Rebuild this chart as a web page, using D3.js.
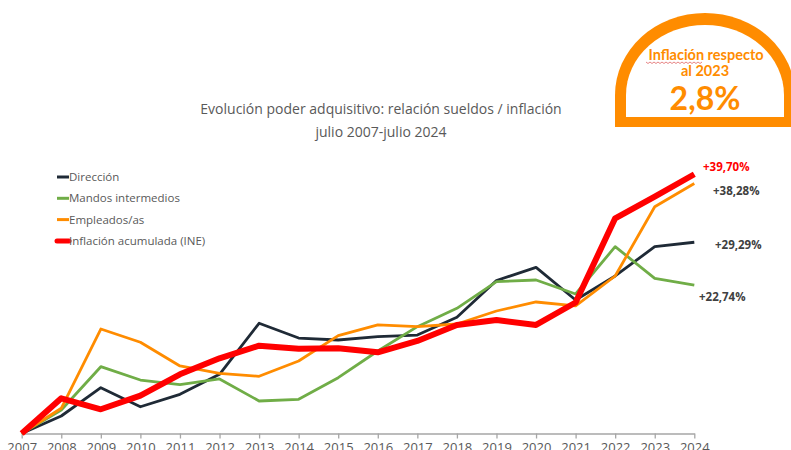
<!DOCTYPE html>
<html>
<head>
<meta charset="utf-8">
<script src="https://cdn.jsdelivr.net/npm/d3@7"></script>
<style>
  html, body { margin: 0; padding: 0; background: #fff; }
  svg { display: block; }
</style>
</head>
<body>
<div id="chart"></div>
<script>
const years = [2007, 2008, 2009, 2010, 2011, 2012, 2013, 2014, 2015, 2016, 2017, 2018, 2019, 2020, 2021, 2022, 2023, 2024];

// cumulative change vs July 2007, in %
const direccion = [0, 2.68, 7.01, 4.10, 6.00, 9.07, 16.88, 14.62, 14.32, 14.82, 15.08, 17.80, 23.43, 25.45, 20.44, 24.12, 28.61, 29.29];
const mandos    = [0, 3.60, 10.23, 8.19, 7.47, 8.35, 4.98, 5.24, 8.55, 12.63, 16.36, 19.17, 23.25, 23.51, 21.36, 28.61, 23.77, 22.74];
const empleados = [0, 3.86, 16.00, 13.97, 10.34, 9.22, 8.76, 11.10, 14.98, 16.62, 16.36, 16.77, 18.76, 20.14, 19.53, 24.12, 34.73, 38.28];
const inflacion = [0, 5.39, 3.71, 5.79, 9.07, 11.52, 13.45, 12.99, 13.05, 12.44, 14.17, 16.62, 17.38, 16.62, 20.06, 32.96, 36.26, 39.70];

const seriesNames = ['Dirección', 'Mandos intermedios', 'Empleados/as', 'Inflación acumulada (INE)'];
const endLabels = ['+29,29%', '+22,74%', '+38,28%', '+39,70%'];

const title = ['Evolución poder adquisitivo: relación sueldos / inflación', 'julio 2007-julio 2024'];

(function () {
  const W = 791, H = 450;
  const font = '"Open Sans", "Noto Sans", sans-serif';
  const gray = '#595959';

  const svg = d3.select('#chart').append('svg')
    .attr('width', W).attr('height', H)
    .attr('viewBox', `0 0 ${W} ${H}`);

  const x = d3.scalePoint().domain(years).range([21.7, 694.3]);
  const y = d3.scaleLinear().domain([0, 40]).range([433.5, 172.3]);

  const series = [
    { name: seriesNames[0], values: direccion, color: '#1f2a36', width: 2.8, label: endLabels[0], lc: '#404040', lx: 715, ly: 245 },
    { name: seriesNames[1], values: mandos,    color: '#70ad47', width: 2.8, label: endLabels[1], lc: '#404040', lx: 699, ly: 297 },
    { name: seriesNames[2], values: empleados, color: '#ff8c00', width: 2.8, label: endLabels[2], lc: '#404040', lx: 713, ly: 191 },
    { name: seriesNames[3], values: inflacion, color: '#ff0000', width: 6,   label: endLabels[3], lc: '#ff0000', lx: 703, ly: 167 }
  ];

  // Title
  svg.append('text')
    .attr('x', 381).attr('y', 114)
    .attr('text-anchor', 'middle')
    .attr('font-family', font).attr('font-size', 14)
    .attr('fill', gray)
    .selectAll('tspan').data(title).enter().append('tspan')
    .attr('x', 381).attr('dy', (d, i) => i === 0 ? 0 : 22.5)
    .text(d => d);

  // X axis
  const axis = svg.append('g')
    .attr('transform', `translate(0,${y(0)})`)
    .call(d3.axisBottom(x).tickSize(5).tickSizeOuter(0).tickPadding(4));
  axis.select('.domain').attr('stroke', '#a6a6a6').attr('stroke-width', 1.3);
  axis.selectAll('.tick line').attr('stroke', '#a6a6a6').attr('stroke-width', 1.3);
  axis.selectAll('.tick text')
    .attr('font-family', font).attr('font-size', 13)
    .attr('fill', gray);

  // Lines
  const line = d3.line()
    .x((d, i) => x(years[i]))
    .y(d => y(d));

  svg.append('g').selectAll('path.series')
    .data(series).enter().append('path')
    .attr('class', 'series')
    .attr('d', d => line(d.values))
    .attr('fill', 'none')
    .attr('stroke', d => d.color)
    .attr('stroke-width', d => d.width)
    .attr('stroke-linejoin', 'round');

  // End labels
  svg.append('g').selectAll('text')
    .data(series).enter().append('text')
    .attr('x', d => d.lx).attr('y', d => d.ly)
    .attr('dy', '0.35em')
    .attr('font-family', font).attr('font-size', 11.5)
    .attr('font-weight', 700)
    .attr('fill', d => d.lc)
    .text(d => d.label);

  // Legend
  const legend = svg.append('g').attr('transform', 'translate(57,177)');
  const items = legend.selectAll('g').data(series).enter().append('g')
    .attr('transform', (d, i) => `translate(0,${i * 21.3})`);
  items.append('line')
    .attr('x1', 0).attr('x2', 12)
    .attr('stroke', d => d.color)
    .attr('stroke-width', d => d.width === 6 ? 5 : 3)
    .attr('stroke-linecap', d => d.width === 6 ? 'round' : 'butt');
  items.append('text')
    .attr('x', 12).attr('dy', '0.35em')
    .attr('font-family', font).attr('font-size', 11.5)
    .attr('fill', gray)
    .text(d => d.name);

  // Badge (top right)
  const orange = '#ff8c00';
  const badge = svg.append('g');
  badge.append('path')
    .attr('d', 'M615,127 V95 A90 82 0 0 1 795 95 V127 Z')
    .attr('fill', orange);
  badge.append('path')
    .attr('d', 'M626,117 V95 A79 70 0 0 1 784 95 V117 Z')
    .attr('fill', '#fff');
  const bfont = '"Century Gothic", "Lato", "Open Sans", sans-serif';
  badge.append('text')
    .attr('x', 706).attr('y', 60).attr('text-anchor', 'middle')
    .attr('font-family', bfont).attr('font-size', 14.5).attr('font-weight', 700)
    .attr('fill', orange).text('Inflación respecto');
  badge.append('text')
    .attr('x', 705).attr('y', 76).attr('text-anchor', 'middle')
    .attr('font-family', bfont).attr('font-size', 14.5).attr('font-weight', 700)
    .attr('fill', orange).text('al 2023');
  badge.append('text')
    .attr('x', 705).attr('y', 110).attr('text-anchor', 'middle')
    .attr('font-family', bfont).attr('font-size', 32).attr('font-weight', 700)
    .attr('fill', orange).text('2,8%');

  // spell-check squiggle under "Inflación"
  const sq = d3.range(0, 57, 2).map((d, i) => [646 + d, i % 2 ? 63.5 : 62]);
  badge.append('path')
    .attr('d', d3.line()(sq))
    .attr('fill', 'none')
    .attr('stroke', '#e06666')
    .attr('stroke-width', 0.8);
})();
</script>
</body>
</html>
